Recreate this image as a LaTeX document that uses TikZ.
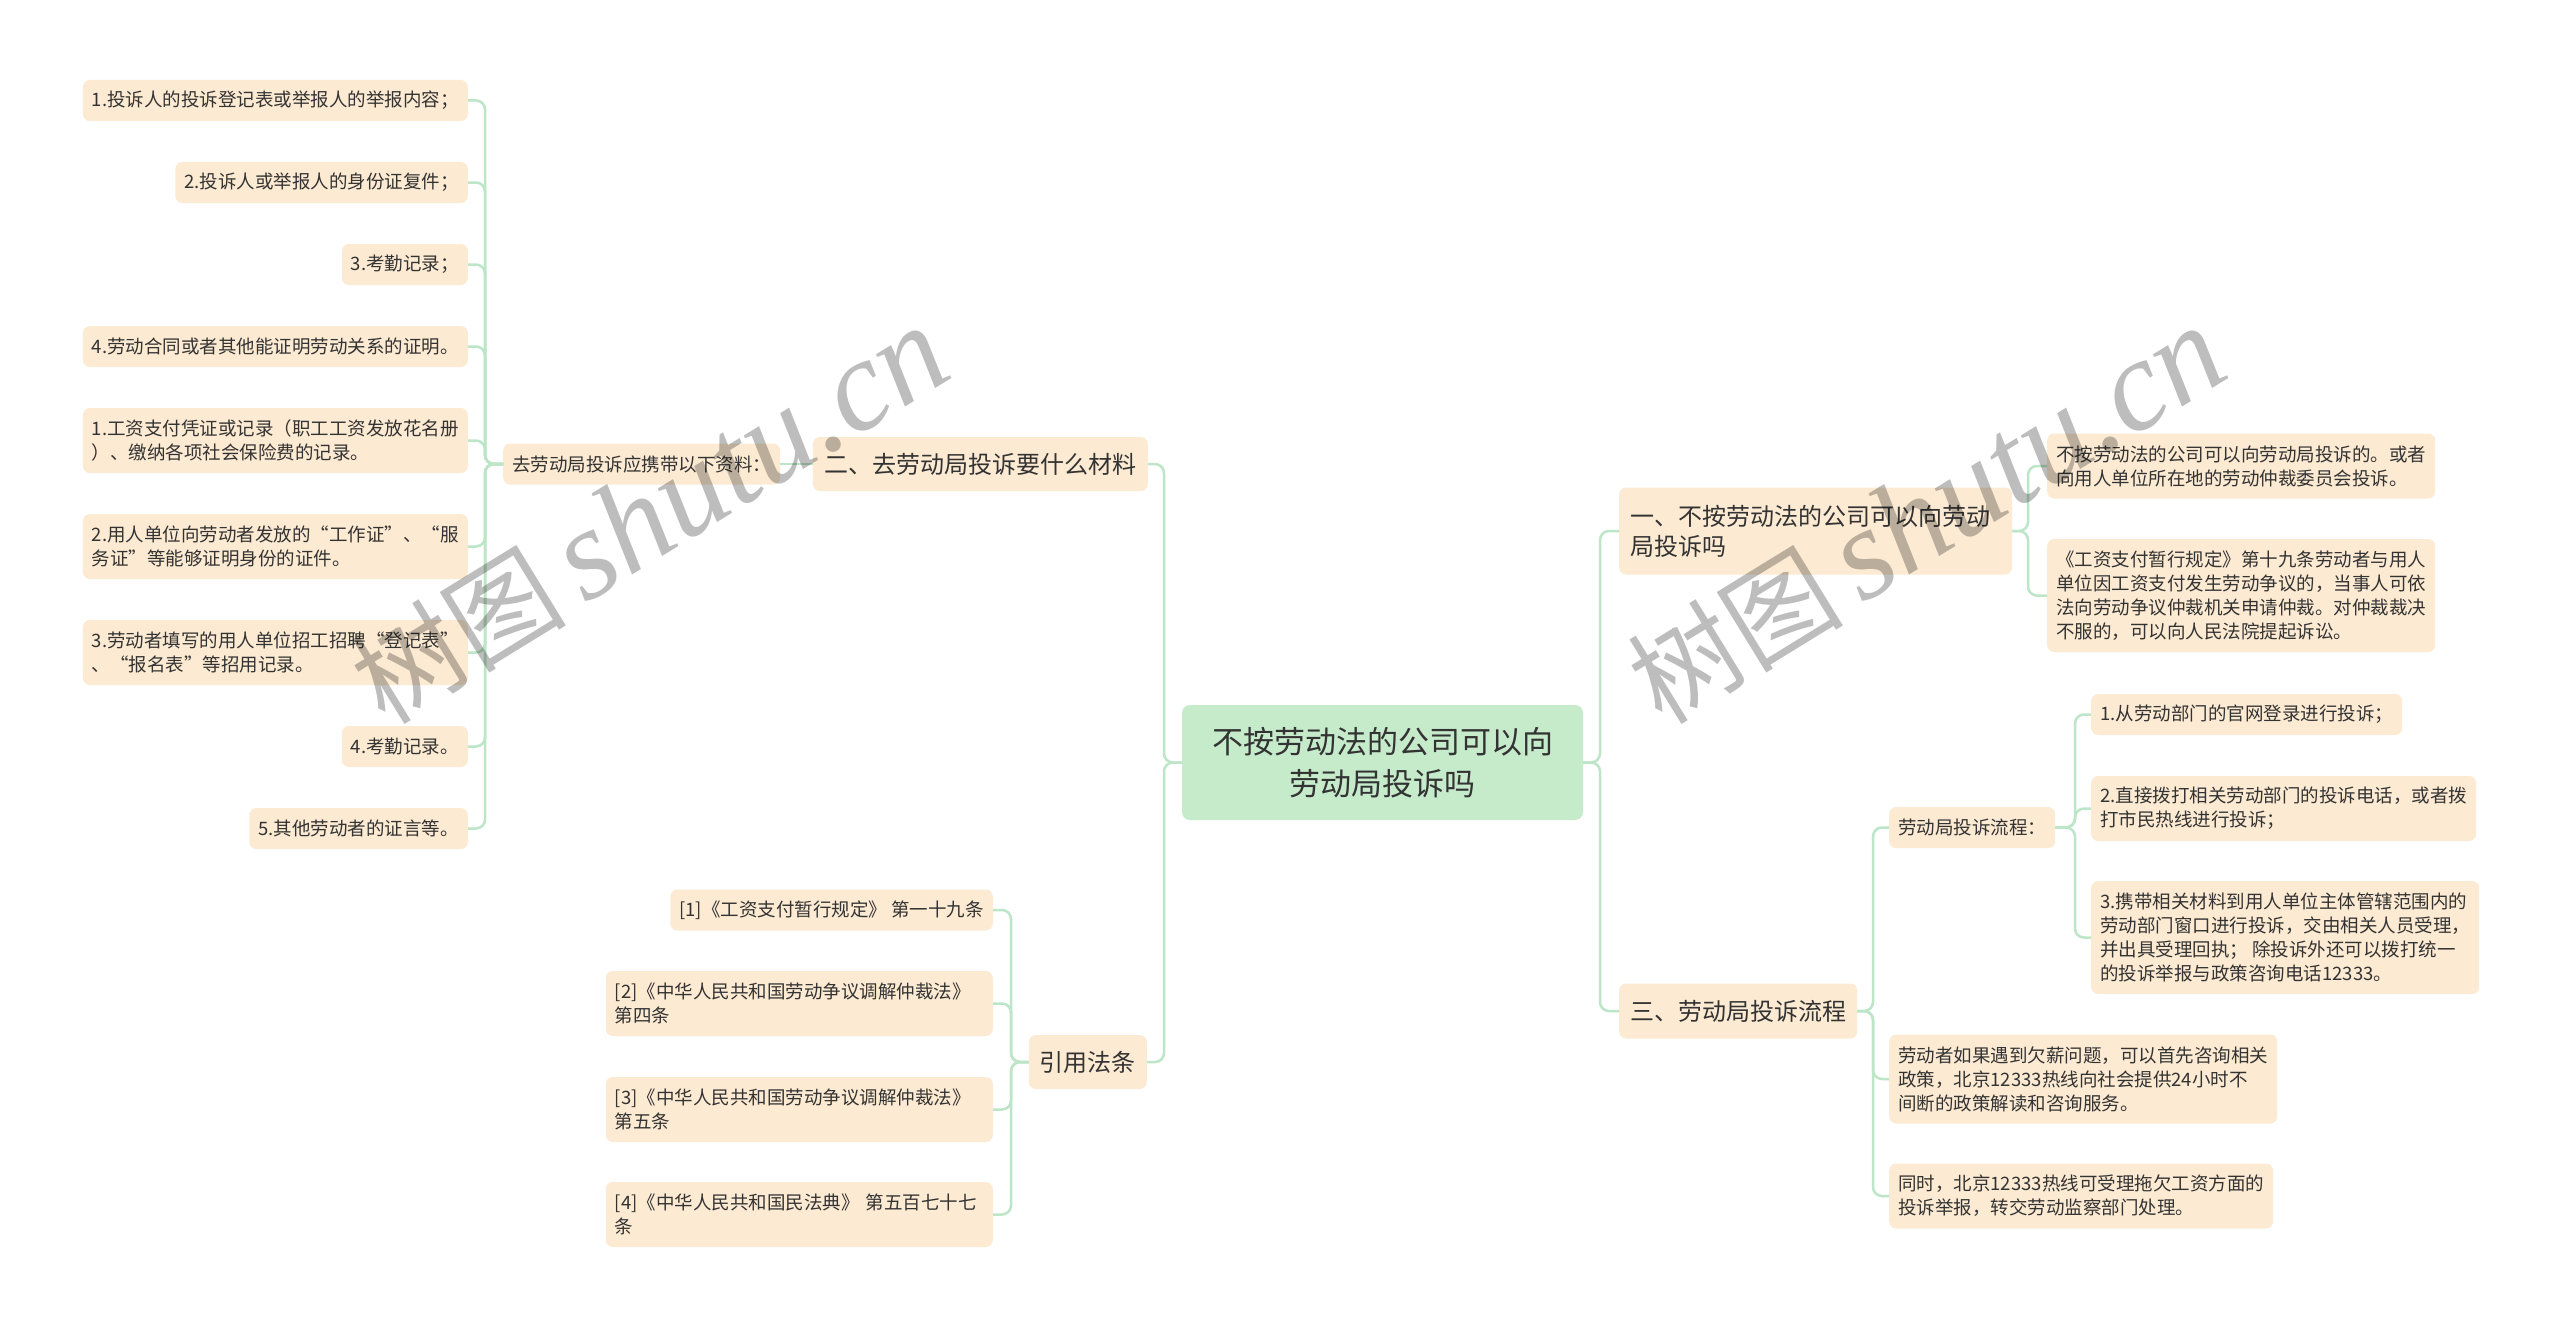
\documentclass[tikz,border=0pt]{standalone}
\usepackage{fontspec}
\newfontfamily\cjk{Noto Sans CJK SC}
\newfontfamily\wmlat{Liberation Serif}
\definecolor{leafc}{HTML}{FCEAD2}
\definecolor{rootc}{HTML}{C6EBCB}
\definecolor{linec}{HTML}{BDE5C8}
\definecolor{txt}{HTML}{333333}
\begin{document}
\begin{tikzpicture}[x=1pt,y=-1pt,
  box/.style={fill=leafc, rounded corners=7pt, text=txt, inner ysep=0pt},
  leaf/.style={box, font=\cjk\fontsize{18.5}{24}\selectfont, align=left, inner xsep=9pt},
  h1/.style={minimum height=41pt},
  h2/.style={minimum height=65pt},
  h3/.style={minimum height=89pt},
  h4/.style={minimum height=113pt},
  topic/.style={box, font=\cjk\fontsize{24}{30}\selectfont, inner xsep=11pt},
  rootbox/.style={fill=rootc, rounded corners=8pt, text=txt, align=center,
    font=\cjk\fontsize{31}{42}\selectfont, minimum width=401pt, minimum height=115pt, inner sep=0pt},
  conn/.style={draw=linec, line width=2.5pt, rounded corners=9pt},
  wm/.style={font=\cjk\fontsize{108}{108}\selectfont, text=black, text opacity=0.26, inner sep=0pt}
]
\fill[white] (0,0) rectangle (2560,1327);
\useasboundingbox (0,0) rectangle (2560,1327);

% root
\node[rootbox] (root) at (1382.5,762.5) {不按劳动法的公司可以向\\劳动局投诉吗};

% left branch: materials
\node[topic, minimum width=335pt, minimum height=54pt, anchor=east] (n2) at (1148,464) {二、去劳动局投诉要什么材料};
\node[leaf,h1,anchor=west] (mid) at (503,464) {去劳动局投诉应携带以下资料：};
\node[leaf,h1,anchor=east] (l1) at (468,100.5) {1.投诉人的投诉登记表或举报人的举报内容；};
\node[leaf,h1,anchor=east] (l2) at (468,182.5) {2.投诉人或举报人的身份证复件；};
\node[leaf,h1,anchor=east] (l3) at (468,264.5) {3.考勤记录；};
\node[leaf,h1,anchor=east] (l4) at (468,346.5) {4.劳动合同或者其他能证明劳动关系的证明。};
\node[leaf,h2,anchor=east] (l5) at (468,440.5) {1.工资支付凭证或记录（职工工资发放花名册\\）、缴纳各项社会保险费的记录。};
\node[leaf,h2,anchor=east] (l6) at (468,546.5) {2.用人单位向劳动者发放的“工作证”、“服\\务证”等能够证明身份的证件。};
\node[leaf,h2,anchor=east] (l7) at (468,652.5) {3.劳动者填写的用人单位招工招聘“登记表”\\、“报名表”等招用记录。};
\node[leaf,h1,anchor=east] (l8) at (468,746.5) {4.考勤记录。};
\node[leaf,h1,anchor=east] (l9) at (468,828.5) {5.其他劳动者的证言等。};

% left branch: laws
\node[topic, minimum width=118pt, minimum height=54pt, anchor=east] (law) at (1147,1062) {引用法条};
\node[leaf,h1,anchor=east] (r1) at (993,910) {[1]《工资支付暂行规定》 第一十九条};
\node[leaf,h2,anchor=east, text width=369pt] (r2) at (993,1003.5) {[2]《中华人民共和国劳动争议调解仲裁法》\\第四条};
\node[leaf,h2,anchor=east, text width=369pt] (r3) at (993,1109.5) {[3]《中华人民共和国劳动争议调解仲裁法》\\第五条};
\node[leaf,h2,anchor=east, text width=369pt] (r4) at (993,1214.5) {[4]《中华人民共和国民法典》 第五百七十七\\条};

% right branch one
\node[topic, align=left, text width=371pt, minimum height=87pt, anchor=west] (n1) at (1619,531) {一、不按劳动法的公司可以向劳动\\局投诉吗};
\node[leaf,h2,anchor=west] (ra) at (2047,466) {不按劳动法的公司可以向劳动局投诉的。或者\\向用人单位所在地的劳动仲裁委员会投诉。};
\node[leaf,h4,anchor=west] (rb) at (2047,595.5) {《工资支付暂行规定》第十九条劳动者与用人\\单位因工资支付发生劳动争议的，当事人可依\\法向劳动争议仲裁机关申请仲裁。对仲裁裁决\\不服的，可以向人民法院提起诉讼。};

% right branch three
\node[topic, minimum width=237pt, minimum height=55pt, anchor=west] (n3) at (1619,1011) {三、劳动局投诉流程};
\node[leaf,h1,anchor=west] (proc) at (1889,827.5) {劳动局投诉流程：};
\node[leaf,h1,anchor=west] (p1) at (2091,714.5) {1.从劳动部门的官网登录进行投诉；};
\node[leaf,h2,anchor=west] (p2) at (2091,808.5) {2.直接拨打相关劳动部门的投诉电话，或者拨\\打市民热线进行投诉；};
\node[leaf,h4,anchor=west] (p3) at (2091,937.5) {3.携带相关材料到用人单位主体管辖范围内的\\劳动部门窗口进行投诉，交由相关人员受理，\\并出具受理回执； 除投诉外还可以拨打统一\\的投诉举报与政策咨询电话12333。};
\node[leaf,h3,anchor=west] (q1) at (1889,1079) {劳动者如果遇到欠薪问题，可以首先咨询相关\\政策，北京12333热线向社会提供24小时不\\间断的政策解读和咨询服务。};
\node[leaf,h2,anchor=west] (q2) at (1889,1196) {同时，北京12333热线可受理拖欠工资方面的\\投诉举报，转交劳动监察部门处理。};

% bus points
\coordinate (bL) at (485,464);
\coordinate (bC) at (1164,762.5);
\coordinate (bLaw) at (1011,1062);
\coordinate (bR) at (1600,762.5);
\coordinate (b1) at (2028,531);
\coordinate (b3) at (1873,1011);
\coordinate (bP) at (2075,827.5);

% connectors
\foreach \c in {l1,l2,l3,l4,l5,l6,l7,l8,l9} \draw[conn] (mid.west) -- (bL) |- (\c.east);
\draw[conn] (n2.west) -- (mid.east);
\foreach \c in {n2,law} \draw[conn] (root.west) -- (bC) |- (\c.east);
\foreach \c in {r1,r2,r3,r4} \draw[conn] (law.west) -- (bLaw) |- (\c.east);
\foreach \c in {n1,n3} \draw[conn] (root.east) -- (bR) |- (\c.west);
\foreach \c in {ra,rb} \draw[conn] (n1.east) -- (b1) |- (\c.west);
\foreach \c in {proc,q1,q2} \draw[conn] (n3.east) -- (b3) |- (\c.west);
\foreach \c in {p1,p2,p3} \draw[conn] (proc.east) -- (bP) |- (\c.west);

% watermarks
\node[wm, rotate=31.6] (wm1) at (650,516) {树图\,{\wmlat\itshape\fontsize{130}{130}\selectfont shutu.cn}};
\node[wm, rotate=31.6] (wm2) at (1927,516) {树图\,{\wmlat\itshape\fontsize{130}{130}\selectfont shutu.cn}};
\end{tikzpicture}
\end{document}
